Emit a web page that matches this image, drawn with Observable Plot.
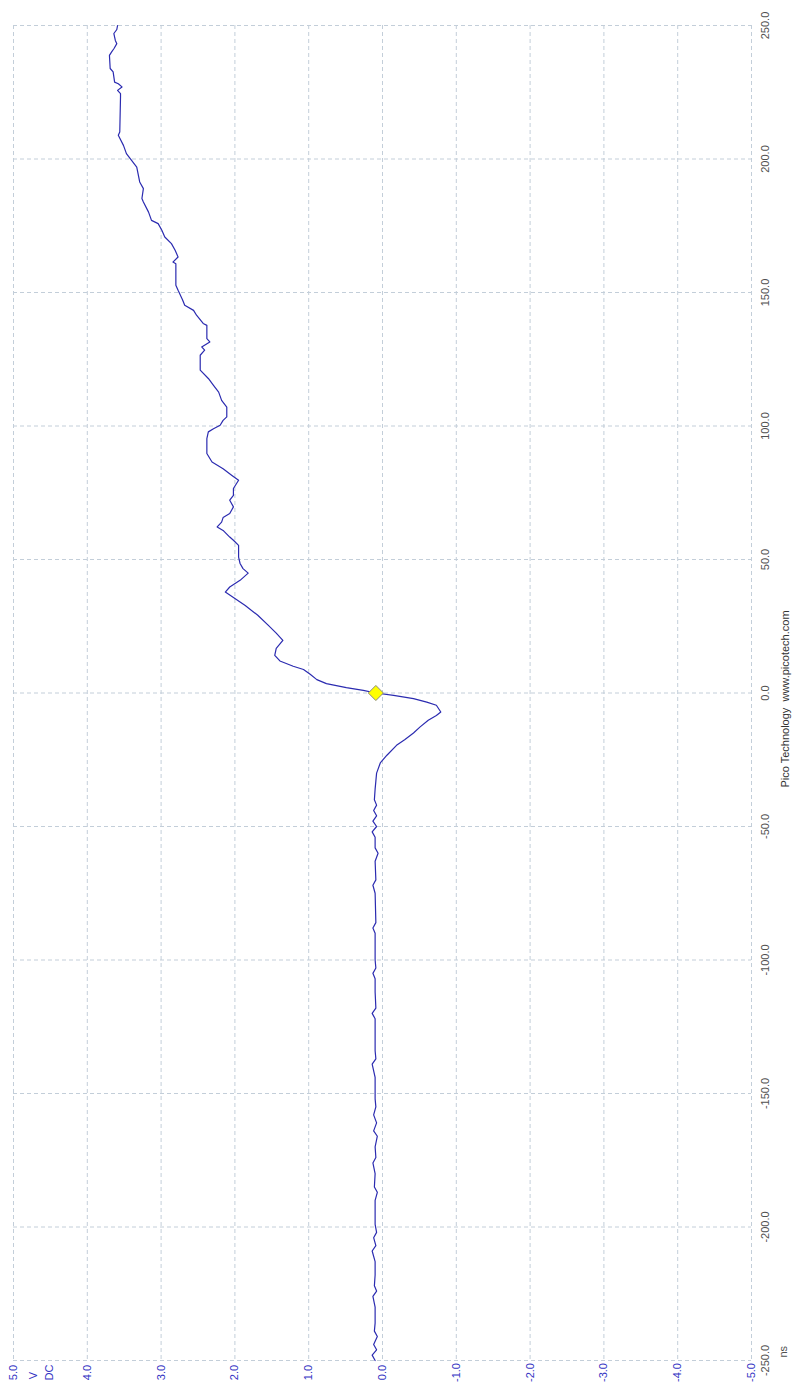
<!DOCTYPE html>
<html><head><meta charset="utf-8">
<script src="https://cdn.jsdelivr.net/npm/d3@7"></script>
<script src="https://cdn.jsdelivr.net/npm/@observablehq/plot@0.6"></script>
<style>body{margin:0;background:#fff} svg{display:block}</style>
</head><body><div id="chart"></div>
<script>
// Time (ns) and voltage (V) of the captured trace
const timeNs = [-250,-248,-246,-244,-241,-239,-236,-230,-226,-224,-222,-218,-213,-209,-207,-204,-202,-199,-190,-187,-185,-180,-176,-174,-170,-166,-164,-161,-158,-155,-152,-144,-139,-137,-134,-122,-120,-118,-112,-107,-105,-103,-100,-90,-88,-86,-75,-72,-70,-63,-60,-58,-54,-52,-50,-48,-46,-44,-42,-40,-36,-33,-30,-26.2,-23.3,-19.6,-17.5,-15,-12.7,-10.2,-8.4,-7.1,-4.6,-3.4,-2.1,-0.9,0,1,2,3.5,5,7,8.8,10,12,14.1,16.7,19.7,22.4,25.4,29.1,32.8,35.4,37.8,39.7,42.2,44.9,46.6,48.5,50.9,55.3,57.2,58.4,60.9,62.2,64,65.7,67.2,69.7,72.2,74,76.6,79.7,81.5,84,86.5,89.7,95.3,97.8,99,100.3,102.1,103.4,107.1,109.6,112.7,115.2,117.8,120.9,126.5,128.4,129.6,131.5,132.7,137.7,138.4,141.5,143.3,145.2,147.3,150.8,152.7,160.8,161.4,163.3,165.8,168.3,170.8,173.3,175.8,177,180.1,183.9,185.2,188.9,191.4,197,199.5,202,205.1,208.9,210.1,223.2,224.5,225.7,227,228.2,228.8,232.6,233.9,238.8,240.1,241.3,243.2,244.4,247,248.5,250];
const volts = [0.10,0.14,0.08,0.12,0.07,0.11,0.10,0.10,0.13,0.08,0.11,0.10,0.10,0.14,0.09,0.12,0.08,0.10,0.10,0.07,0.11,0.10,0.13,0.09,0.10,0.07,0.12,0.08,0.12,0.09,0.10,0.10,0.14,0.09,0.10,0.10,0.14,0.09,0.10,0.10,0.13,0.09,0.10,0.10,0.13,0.09,0.10,0.13,0.09,0.10,0.06,0.10,0.10,0.14,0.08,0.13,0.08,0.12,0.08,0.11,0.10,0.09,0.08,0.03,-0.06,-0.19,-0.30,-0.42,-0.51,-0.62,-0.73,-0.79,-0.73,-0.60,-0.42,-0.15,0.09,0.26,0.49,0.76,0.89,0.98,1.07,1.21,1.39,1.46,1.44,1.35,1.44,1.55,1.69,1.86,2.00,2.13,2.07,1.93,1.82,1.89,1.93,1.95,1.95,2.02,2.07,2.16,2.24,2.18,2.16,2.07,2.02,2.07,2.02,2.02,1.95,2.04,2.16,2.31,2.38,2.38,2.36,2.29,2.20,2.16,2.11,2.11,2.18,2.22,2.29,2.36,2.47,2.47,2.41,2.45,2.34,2.38,2.38,2.43,2.52,2.56,2.68,2.71,2.77,2.80,2.80,2.84,2.77,2.81,2.86,2.95,2.99,3.04,3.13,3.17,3.24,3.26,3.24,3.29,3.33,3.40,3.47,3.51,3.58,3.56,3.55,3.55,3.59,3.53,3.58,3.63,3.65,3.69,3.70,3.67,3.64,3.60,3.62,3.64,3.60,3.59];
const voltTicks = [5,4,3,2,1,0,-1,-2,-3,-4,-5];
const timeTicks = [-250,-200,-150,-100,-50,0,50,100,150,200,250];
const triggerTime = [0];
const triggerVolt = [0.09];
const unitLabels = ["V","DC"];
const timeUnit = "ns";
const credit = "Pico Technology  www.picotech.com";

const trace = timeNs.map((t,i)=>({t, v: volts[i]}));
const trig = triggerTime.map((t,i)=>({t, v: triggerVolt[i]}));

const blue = "#3434c4";
const grey = "#505050";
const gridColor = "#c3ced9";

const chart = Plot.plot({
  width: 793, height: 1387,
  marginLeft: 13, marginRight: 42, marginTop: 25, marginBottom: 27,
  style: {background: "#fff", fontFamily: "'Liberation Sans', Arial, sans-serif", fontSize: "11px", overflow: "visible"},
  x: {domain: [5, -5], axis: null},
  y: {domain: [-250, 250], axis: null},
  marks: [
    Plot.gridX(voltTicks, {stroke: gridColor, strokeOpacity: 1, strokeWidth: 1, strokeDasharray: "4,3"}),
    Plot.gridY(timeTicks, {stroke: gridColor, strokeOpacity: 1, strokeWidth: 1, strokeDasharray: "4,3"}),
    Plot.line(trace, {x: "v", y: "t", stroke: "#2b2bb0", strokeWidth: 1.2}),
    Plot.dot(trig, {x: "v", y: "t", symbol: "diamond2", r: 6.8, fill: "#ffff00", stroke: "#8a8a7a", strokeWidth: 1}),
    Plot.text(voltTicks, {x: d => d, y: () => -250, text: d => d.toFixed(1), rotate: -90, dy: 12, fill: blue, fontSize: 11}),
    Plot.text(unitLabels.slice(0, 1), {x: () => 5, y: () => -250, text: d => d, rotate: -90, dx: 20, dy: 15, fill: blue, fontSize: 11}),
    Plot.text(unitLabels.slice(1, 2), {x: () => 5, y: () => -250, text: d => d, rotate: -90, dx: 36, dy: 12, fill: blue, fontSize: 11}),
    Plot.text(timeTicks, {x: () => -5, y: d => d, text: d => d.toFixed(1), rotate: -90, dx: 14, fill: grey, fontSize: 11}),
    Plot.text([timeUnit], {x: () => -5, y: () => -250, text: d => d, rotate: -90, dx: 32, dy: -3, textAnchor: "start", fill: grey, fontSize: 11}),
    Plot.text([credit], {x: () => -5, y: () => 0, text: d => d, rotate: -90, dx: 34, dy: 6, fill: "#333", fontSize: 11})
  ]
});
document.getElementById("chart").append(chart);
</script>
</body></html>
